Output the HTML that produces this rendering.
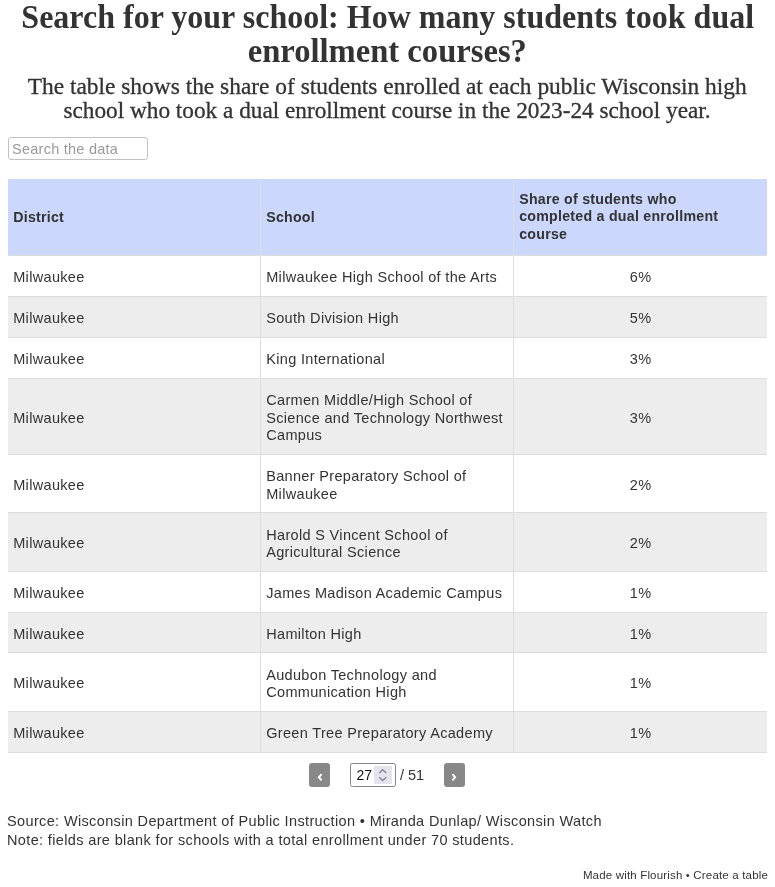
<!DOCTYPE html>
<html>
<head>
<meta charset="utf-8">
<title>Search for your school</title>
<style>
html,body{margin:0;padding:0;background:#fff;}
body{width:775px;height:887px;position:relative;overflow:hidden;font-family:"Liberation Sans",sans-serif;color:#333;}
.tl{position:absolute;left:0;width:775px;text-align:center;white-space:nowrap;font-family:"Liberation Serif",serif;color:#333;}
.t1{font-weight:bold;font-size:33px;line-height:34px;}
.tl span{display:inline-block;transform-origin:50% 50%;}
.t1 span{transform:scaleX(0.97);}
.t2 span{transform:scaleX(1.018);}
.t2.b span{transform:scaleX(1.011);}
.t2{font-size:23px;line-height:24px;-webkit-text-stroke:0.3px #333;}
#search{position:absolute;left:8px;top:137px;width:138px;height:21px;border:1px solid #c2c2c2;border-radius:3px;background:#fff;}
#search span{position:absolute;left:3px;top:0;line-height:22px;font-size:14.5px;letter-spacing:0.25px;color:#9a9a9a;white-space:nowrap;}
#tbl{position:absolute;left:8px;top:179px;width:759px;font-size:14.5px;letter-spacing:0.33px;line-height:17.5px;}
.r{display:flex;box-sizing:border-box;border-bottom:1px solid #ddd;}
.r.h{background:#cbd7fc;font-weight:bold;font-size:14.2px;letter-spacing:0.25px;height:77px;}
.r.s{background:#ededed;}
.c{box-sizing:border-box;width:253px;padding:0 5px 0 5.2px;display:flex;align-items:center;border-right:1px solid #ddd;}
.c:last-child{border-right:0;justify-content:center;}
.r.h .c:last-child{justify-content:flex-start;}
.c span{display:block;position:relative;top:2px;}
.r.h .c span{top:1px;}
.r.h .c:last-child span{top:0;}
.pb{position:absolute;top:763px;width:21px;height:24px;background:#888;border-radius:3px;}
.pb svg{position:absolute;left:0;top:0;}
#pin{position:absolute;left:350px;top:763px;width:44px;height:22px;border:1px solid #84848f;border-radius:2.5px;background:#fff;}
#pin .n{position:absolute;left:5.5px;top:0px;line-height:23px;font-size:14px;color:#111;}
#pin .sp{position:absolute;left:23px;top:2px;width:18px;height:18px;background:#e4e4ec;}
#ptot{position:absolute;left:400px;top:763px;line-height:24px;font-size:14.5px;color:#333;white-space:nowrap;}
.ft{position:absolute;left:7px;font-size:14.5px;letter-spacing:0.36px;line-height:19px;color:#333;white-space:nowrap;}
#cr{position:absolute;right:7px;top:868px;font-size:11.5px;letter-spacing:0.17px;line-height:14px;color:#333;white-space:nowrap;}
#w{position:absolute;left:0;top:0;width:775px;height:887px;will-change:transform;}
</style>
</head>
<body>
<div id="w">
<div class="tl t1" style="top:0px"><span>Search for your school: How many students took dual</span></div>
<div class="tl t1" style="top:34px"><span style="transform:scaleX(0.988)">enrollment courses?</span></div>
<div class="tl t2" style="top:75px"><span>The table shows the share of students enrolled at each public Wisconsin high</span></div>
<div class="tl t2 b" style="top:99px"><span>school who took a dual enrollment course in the 2023-24 school year.</span></div>

<div id="search"><span>Search the data</span></div>

<div id="tbl">
<div class="r h"><div class="c"><span>District</span></div><div class="c"><span>School</span></div><div class="c"><span>Share of students who<br>completed a dual enrollment<br>course</span></div></div>
<div class="r" style="height:41px"><div class="c"><span>Milwaukee</span></div><div class="c"><span>Milwaukee High School of the Arts</span></div><div class="c"><span>6%</span></div></div>
<div class="r s" style="height:41px"><div class="c"><span>Milwaukee</span></div><div class="c"><span>South Division High</span></div><div class="c"><span>5%</span></div></div>
<div class="r" style="height:41px"><div class="c"><span>Milwaukee</span></div><div class="c"><span>King International</span></div><div class="c"><span>3%</span></div></div>
<div class="r s" style="height:76px"><div class="c"><span>Milwaukee</span></div><div class="c"><span>Carmen Middle/High School of<br>Science and Technology Northwest<br>Campus</span></div><div class="c"><span>3%</span></div></div>
<div class="r" style="height:58px"><div class="c"><span>Milwaukee</span></div><div class="c"><span>Banner Preparatory School of<br>Milwaukee</span></div><div class="c"><span>2%</span></div></div>
<div class="r s" style="height:59px"><div class="c"><span>Milwaukee</span></div><div class="c"><span>Harold S Vincent School of<br>Agricultural Science</span></div><div class="c"><span>2%</span></div></div>
<div class="r" style="height:41px"><div class="c"><span>Milwaukee</span></div><div class="c"><span>James Madison Academic Campus</span></div><div class="c"><span>1%</span></div></div>
<div class="r s" style="height:40px"><div class="c"><span>Milwaukee</span></div><div class="c"><span>Hamilton High</span></div><div class="c"><span>1%</span></div></div>
<div class="r" style="height:59px"><div class="c"><span>Milwaukee</span></div><div class="c"><span>Audubon Technology and<br>Communication High</span></div><div class="c"><span>1%</span></div></div>
<div class="r s" style="height:41px"><div class="c"><span>Milwaukee</span></div><div class="c"><span>Green Tree Preparatory Academy</span></div><div class="c"><span>1%</span></div></div>
</div>

<div class="pb" style="left:309px"><svg width="21" height="24" viewBox="0 0 21 24"><path d="M12.6 11.2 L9.9 14.3 L12.6 17.4" fill="none" stroke="#fff" stroke-width="2"/></svg></div>
<div id="pin"><span class="n">27</span><div class="sp"><svg width="18" height="18" viewBox="0 0 18 18"><path d="M5.2 7 L8.7 3.7 L12.2 7 M5.2 11.2 L8.7 14.5 L12.2 11.2" fill="none" stroke="#85859a" stroke-width="1.3"/></svg></div></div>
<div id="ptot">/ 51</div>
<div class="pb" style="left:444px"><svg width="21" height="24" viewBox="0 0 21 24"><path d="M8.4 11.2 L11.1 14.3 L8.4 17.4" fill="none" stroke="#fff" stroke-width="2"/></svg></div>

<div class="ft" style="top:812px">Source: Wisconsin Department of Public Instruction • Miranda Dunlap/ Wisconsin Watch</div>
<div class="ft" style="top:831px">Note: fields are blank for schools with a total enrollment under 70 students.</div>
<div id="cr">Made with Flourish • Create a table</div>
</div>
</body>
</html>
